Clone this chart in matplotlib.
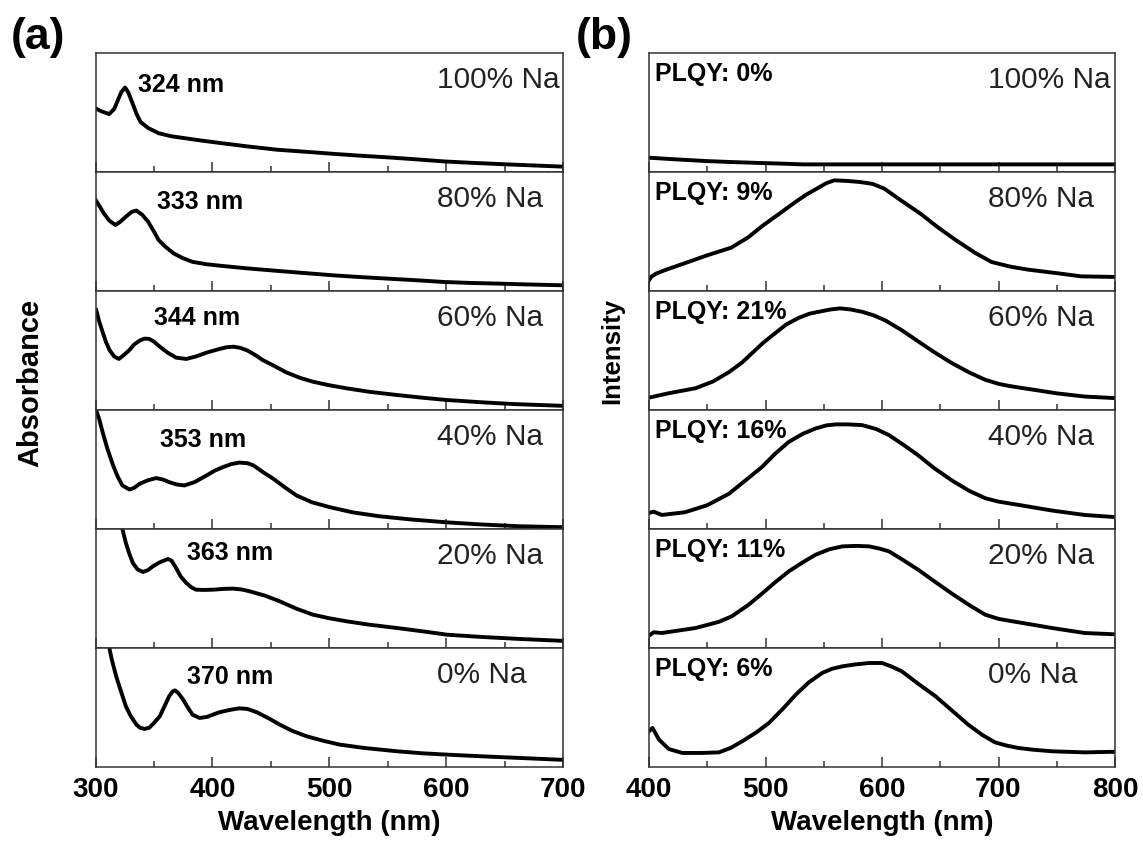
import numpy as np
import matplotlib
matplotlib.use('Agg')
import matplotlib.pyplot as plt

plt.rcParams['font.family'] = ['Liberation Sans', 'DejaVu Sans']

# absorption spectra, top panel = 100% Na ... bottom panel = 0% Na
na_labels = ['100% Na', '80% Na', '60% Na', '40% Na', '20% Na', '0% Na']
peak_labels = ['324 nm', '333 nm', '344 nm', '353 nm', '363 nm', '370 nm']
plqy_labels = ['PLQY: 0%', 'PLQY: 9%', 'PLQY: 21%', 'PLQY: 16%', 'PLQY: 11%', 'PLQY: 6%']

abs_wl_100 = [300, 305, 311.7, 316, 319, 322, 325.3, 328, 331.6, 335, 338.6, 345, 354, 365, 376.5, 390, 408, 430,
              455.6, 480, 503, 525, 550, 575, 598, 620, 645, 670, 700]
abs_100 = [0.535, 0.51, 0.487, 0.53, 0.60, 0.67, 0.71, 0.67, 0.58, 0.49, 0.42, 0.37, 0.326, 0.30, 0.284, 0.265,
           0.242, 0.215, 0.187, 0.17, 0.153, 0.138, 0.123, 0.106, 0.089, 0.078, 0.067, 0.057, 0.045]

abs_wl_80 = [300, 303, 307, 312, 317, 321, 326, 331, 335, 340, 345, 350, 354, 360, 367, 375, 383, 395, 408, 430,
             455.6, 480, 503, 525, 550, 575, 598, 620, 645, 670, 700]
abs_80 = [0.766, 0.72, 0.654, 0.59, 0.555, 0.58, 0.625, 0.665, 0.676, 0.64, 0.583, 0.5, 0.428, 0.37, 0.315, 0.275,
          0.245, 0.225, 0.211, 0.19, 0.169, 0.15, 0.132, 0.118, 0.104, 0.09, 0.076, 0.068, 0.062, 0.055, 0.048]

abs_wl_60 = [300.6, 303, 306, 309, 312, 316, 320, 324, 329, 333, 337.7, 342, 346, 350, 355, 362, 369, 377.7, 386,
             395, 405, 412, 418, 424, 430, 437, 443, 453, 463, 475, 486, 500, 515, 535, 558, 580, 600.6, 630, 657.7,
             680, 700]
abs_60 = [0.84, 0.75, 0.658, 0.57, 0.504, 0.45, 0.429, 0.46, 0.504, 0.55, 0.583, 0.6, 0.597, 0.575, 0.532, 0.48,
          0.44, 0.429, 0.45, 0.482, 0.51, 0.527, 0.532, 0.522, 0.50, 0.46, 0.42, 0.37, 0.317, 0.27, 0.238, 0.208,
          0.182, 0.152, 0.126, 0.103, 0.084, 0.065, 0.05, 0.042, 0.035]

abs_wl_40 = [301, 303, 306, 310, 315, 319, 323, 329, 333, 337.7, 345, 352, 358, 363, 369, 376, 385, 395, 402, 409,
             416, 423, 430, 435, 443, 452, 462, 472, 485, 500.6, 520, 543, 570, 600.6, 630, 663, 700]
abs_40 = [0.986, 0.93, 0.817, 0.68, 0.535, 0.44, 0.366, 0.332, 0.345, 0.38, 0.41, 0.428, 0.415, 0.394, 0.375,
          0.366, 0.395, 0.45, 0.49, 0.52, 0.545, 0.558, 0.553, 0.535, 0.48, 0.423, 0.35, 0.282, 0.225, 0.183, 0.14,
          0.107, 0.08, 0.056, 0.038, 0.023, 0.015]

abs_wl_20 = [322, 326, 329, 332, 336, 340.6, 345, 349, 355, 362, 365, 369, 373, 377.7, 382, 386, 393, 400.6, 410,
             417.7, 425, 432, 445, 457.7, 472, 486, 500, 515, 535, 558, 580, 600.6, 630, 663, 700]
abs_20 = [1.04, 0.882, 0.79, 0.714, 0.66, 0.639, 0.655, 0.686, 0.72, 0.748, 0.735, 0.672, 0.6, 0.546, 0.51, 0.49,
          0.488, 0.49, 0.497, 0.499, 0.492, 0.476, 0.44, 0.392, 0.33, 0.28, 0.25, 0.224, 0.195, 0.168, 0.14, 0.112,
          0.093, 0.076, 0.06]

abs_wl_0 = [311, 314, 317.7, 322, 326, 330, 335, 338, 342, 346, 350, 355, 359, 363, 366, 368, 371, 375, 379, 383,
            389, 395, 406, 415, 423, 430, 438, 448, 457.7, 468, 480.6, 495, 509, 530, 558, 580, 600.6, 630, 663, 700]
abs_0 = [1.04, 0.9, 0.762, 0.63, 0.51, 0.43, 0.356, 0.33, 0.32, 0.33, 0.37, 0.426, 0.51, 0.594, 0.635, 0.644, 0.62,
         0.566, 0.5, 0.44, 0.412, 0.42, 0.46, 0.48, 0.493, 0.488, 0.46, 0.41, 0.356, 0.305, 0.258, 0.22, 0.188, 0.16,
         0.132, 0.115, 0.104, 0.09, 0.076, 0.06]

# photoluminescence spectra
pl_wl_100 = [400, 420, 449, 470, 495, 515, 532, 560, 587, 650, 700, 750, 800]
pl_100 = [0.12, 0.108, 0.092, 0.084, 0.076, 0.07, 0.064, 0.064, 0.064, 0.064, 0.064, 0.064, 0.064]

pl_wl_80 = [400, 402, 406, 415, 433.7, 450, 470.5, 485, 498, 512, 525.7, 535, 544, 552, 559, 570, 581, 592, 602,
            615, 633, 648, 663.6, 680, 694, 710, 725, 750, 771, 800]
pl_80 = [0.09, 0.12, 0.146, 0.18, 0.244, 0.3, 0.364, 0.45, 0.552, 0.65, 0.748, 0.81, 0.86, 0.905, 0.93, 0.925,
         0.916, 0.9, 0.86, 0.77, 0.65, 0.535, 0.426, 0.32, 0.244, 0.205, 0.18, 0.15, 0.123, 0.118]

pl_wl_60 = [400, 417, 440, 455, 468.6, 480, 488.6, 498, 508.6, 518, 528.6, 538, 548.6, 556, 564, 573, 583, 593, 603,
            617, 631, 645, 660, 675, 688.6, 700, 708.6, 720, 731, 750, 774, 800]
pl_60 = [0.104, 0.141, 0.183, 0.24, 0.318, 0.4, 0.479, 0.565, 0.648, 0.72, 0.775, 0.81, 0.831, 0.845, 0.854, 0.845,
         0.825, 0.795, 0.752, 0.67, 0.577, 0.485, 0.394, 0.315, 0.254, 0.22, 0.203, 0.185, 0.169, 0.14, 0.113, 0.1]

pl_wl_40 = [400, 404, 411, 431, 450, 468.6, 483, 497, 508, 520, 532, 543, 552, 560, 571, 583, 595, 606, 618, 631,
            645, 660, 675, 688.6, 700, 717, 746, 774, 800]
pl_40 = [0.135, 0.146, 0.118, 0.141, 0.2, 0.296, 0.41, 0.521, 0.63, 0.732, 0.8, 0.845, 0.87, 0.879, 0.879, 0.873,
         0.84, 0.789, 0.71, 0.62, 0.51, 0.408, 0.32, 0.259, 0.23, 0.203, 0.155, 0.118, 0.1]

pl_wl_20 = [400, 404, 411, 440, 460, 471, 485, 497, 508, 520, 532, 543, 555, 566, 578, 589, 598, 606, 618, 631, 645,
            660, 675, 688.6, 700, 708.6, 746, 774, 800]
pl_20 = [0.104, 0.132, 0.126, 0.168, 0.22, 0.266, 0.36, 0.457, 0.55, 0.644, 0.72, 0.784, 0.83, 0.854, 0.858, 0.854,
         0.835, 0.812, 0.74, 0.658, 0.56, 0.457, 0.36, 0.28, 0.245, 0.23, 0.168, 0.126, 0.115]

pl_wl_0 = [400, 403, 408.6, 417, 428.6, 445, 460, 470, 480, 492, 503, 515, 526, 537, 548.6, 557, 566, 577, 589, 600,
           608, 617, 631, 646, 660, 674, 686, 697, 707, 717, 730, 746, 774, 800]
pl_0 = [0.30, 0.328, 0.23, 0.151, 0.118, 0.118, 0.123, 0.16, 0.216, 0.29, 0.37, 0.49, 0.608, 0.71, 0.79, 0.825,
        0.846, 0.862, 0.874, 0.874, 0.845, 0.804, 0.7, 0.594, 0.475, 0.356, 0.27, 0.207, 0.18, 0.16, 0.145, 0.132,
        0.123, 0.128]

abs_data = [(abs_wl_100, abs_100), (abs_wl_80, abs_80), (abs_wl_60, abs_60),
            (abs_wl_40, abs_40), (abs_wl_20, abs_20), (abs_wl_0, abs_0)]
pl_data = [(pl_wl_100, pl_100), (pl_wl_80, pl_80), (pl_wl_60, pl_60),
           (pl_wl_40, pl_40), (pl_wl_20, pl_20), (pl_wl_0, pl_0)]

# where the peak labels sit (wavelength, fraction of panel height)
peak_label_pos = [(336, 0.73), (353, 0.75), (350, 0.77), (355, 0.75), (378.7, 0.80), (378.7, 0.76)]


def style_panel(ax, xmin, xmax, bottom_row):
    ax.set_xlim(xmin, xmax)
    ax.set_ylim(0, 1)
    ax.set_yticks([])
    ax.set_xticks(np.arange(xmin, xmax + 1, 100))
    ax.set_xticks(np.arange(xmin + 50, xmax, 100), minor=True)
    ax.tick_params(axis='x', which='major', direction='in', length=7, width=1.1, color='#333333',
                   labelsize=20, pad=7, labelbottom=bottom_row)
    ax.tick_params(axis='x', which='minor', direction='in', length=4, width=1.1, color='#333333')
    for lab in ax.get_xticklabels():
        lab.set_fontweight('bold')
    for sp in ax.spines.values():
        sp.set_linewidth(1.1)
        sp.set_color('#333333')


fig = plt.figure(figsize=(11.43, 8.48), dpi=100)
W, H = 1143.0, 848.0
top = 53.0
panel_h = 119.0

for i in range(6):
    y0 = 1 - (top + panel_h * (i + 1)) / H
    last = (i == 5)

    # (a) absorbance
    axa = fig.add_axes([95.5 / W, y0, (563 - 95.5) / W, panel_h / H])
    wl, val = abs_data[i]
    axa.plot(wl, val, color='black', lw=2.8, solid_joinstyle='round')
    style_panel(axa, 300, 700, last)
    px, py = peak_label_pos[i]
    axa.text(px, py, peak_labels[i], fontsize=18, fontweight='bold', va='center', ha='left')
    axa.text(592.6, 0.77, na_labels[i], fontsize=21.5, color='#222222', va='center', ha='left')
    if last:
        axa.set_xlabel('Wavelength (nm)', fontsize=20, fontweight='bold', labelpad=5)

    # (b) PL intensity
    axb = fig.add_axes([649 / W, y0, (1115 - 649) / W, panel_h / H])
    wl, val = pl_data[i]
    axb.plot(wl, val, color='black', lw=2.8, solid_joinstyle='round')
    style_panel(axb, 400, 800, last)
    axb.text(405, 0.82, plqy_labels[i], fontsize=18, fontweight='bold', va='center', ha='left')
    axb.text(690.6, 0.77, na_labels[i], fontsize=21.5, color='#222222', va='center', ha='left')
    if last:
        axb.set_xlabel('Wavelength (nm)', fontsize=20, fontweight='bold', labelpad=5)

fig.text(38 / W, 1 - 37 / H, '(a)', fontsize=32, fontweight='bold', ha='center', va='center')
fig.text(604 / W, 1 - 37 / H, '(b)', fontsize=32, fontweight='bold', ha='center', va='center')
fig.text(30 / W, 1 - 383 / H, 'Absorbance', fontsize=21, fontweight='bold', rotation=90,
         ha='center', va='center')
fig.text(612 / W, 1 - 351 / H, 'Intensity', fontsize=18.5, fontweight='bold', rotation=90,
         ha='center', va='center')

fig.savefig('out.png', dpi=100)
